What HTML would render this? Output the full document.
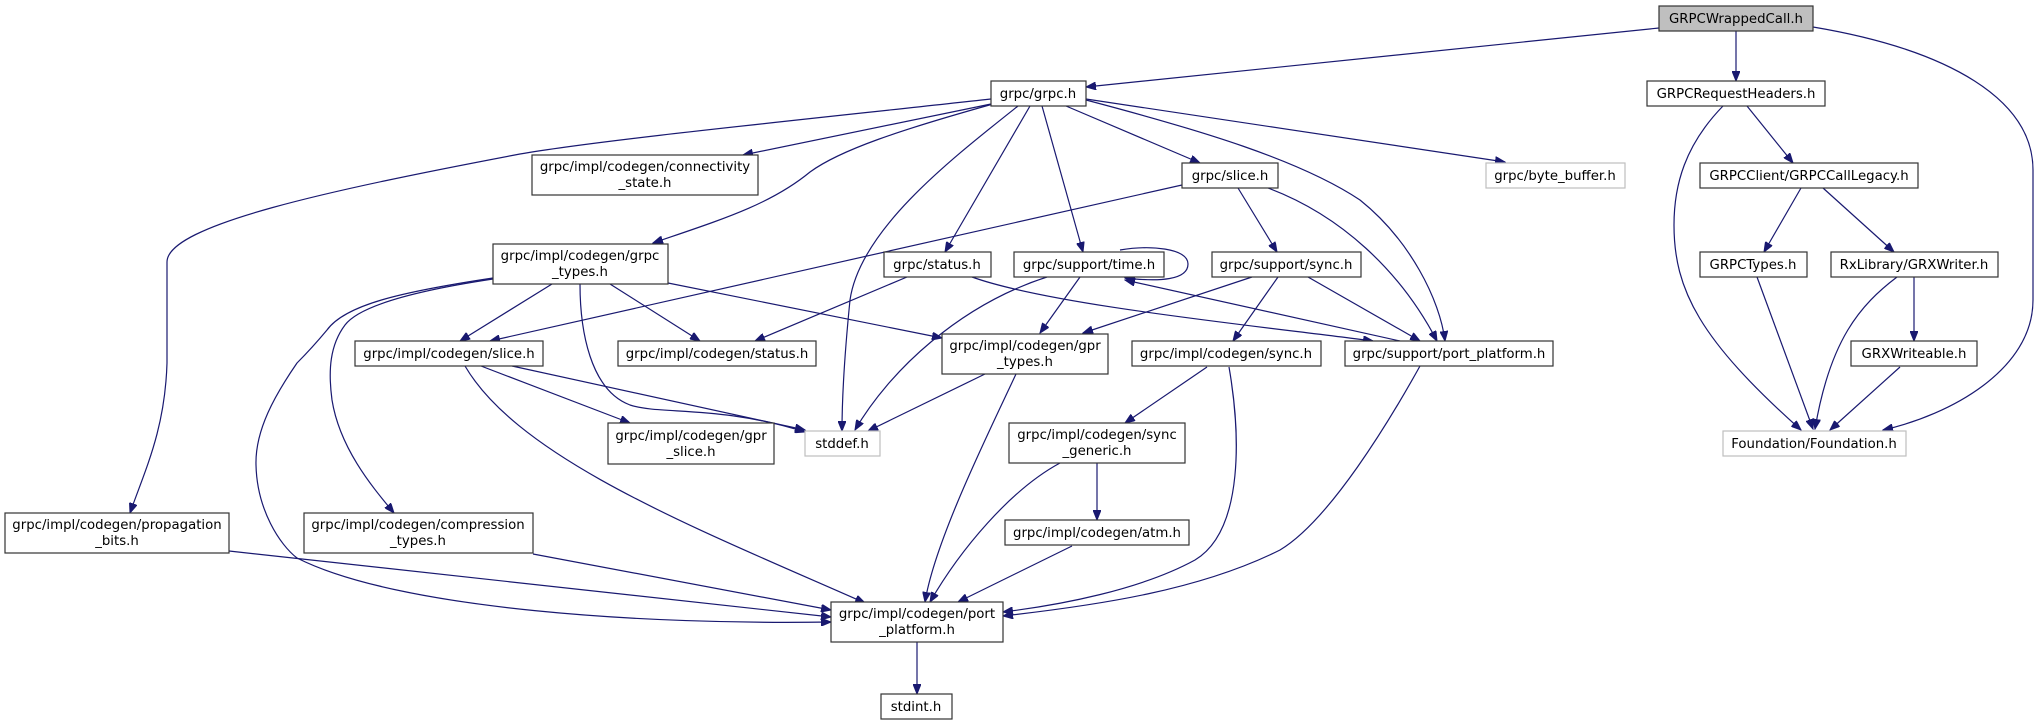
<!DOCTYPE html>
<html><head><meta charset="utf-8"><style>
html,body{margin:0;padding:0;background:#fff;}
svg{display:block;}
text{font-family:"DejaVu Sans","Liberation Sans",sans-serif;font-size:13.3px;fill:#000;text-anchor:middle;}
.n{fill:#fff;stroke:#333;stroke-width:1.2;}
.g{fill:#fff;stroke:#bfbfbf;stroke-width:1.2;}
.e{fill:none;stroke:#191970;stroke-width:1.2;}
</style></head><body>
<svg width="2041" height="723" viewBox="0 0 2041 723" xmlns="http://www.w3.org/2000/svg">
<defs>
<marker id="a" markerWidth="11" markerHeight="8" refX="10" refY="4" orient="auto" markerUnits="userSpaceOnUse">
<path d="M0,0 L10,4 L0,8 z" fill="#191970" stroke="#191970"/>
</marker>
</defs>
<g marker-end="url(#a)">
<path class="e" d="M1659,28 L1086,87"/>
<path class="e" d="M1736,31 V81"/>
<path class="e" d="M1813,27 C1950,50 2033,100 2033,170 L2033,300 C2033,370 1950,415 1883,430"/>
<path class="e" d="M991,99 C800,120 600,140 520,154 C330,190 167,225 167,262 L167,363 C165,430 145,470 130,513"/>
<path class="e" d="M991,104 L743,155"/>
<path class="e" d="M993,104 C900,130 840,150 810,172 C770,205 720,220 653,243"/>
<path class="e" d="M1018,106 C950,160 860,230 850,300 C845,350 842,400 842,431"/>
<path class="e" d="M1030,106 L945,252"/>
<path class="e" d="M1042,106 L1083,252"/>
<path class="e" d="M1066,106 L1200,163"/>
<path class="e" d="M1086,100 C1200,130 1300,160 1360,200 C1410,240 1440,300 1445,341"/>
<path class="e" d="M1086,99 L1505,162"/>
<path class="e" d="M1182,185 L490,341"/>
<path class="e" d="M1238,188 L1277,252"/>
<path class="e" d="M1268,188 C1340,215 1400,270 1437,341"/>
<path class="e" d="M907,277 L755,341"/>
<path class="e" d="M972,277 C1050,305 1250,325 1373,341"/>
<path class="e" d="M1120,250 C1150,245 1188,248 1188,264 C1188,280 1160,282 1125,278"/>
<path class="e" d="M1080,277 L1040,333"/>
<path class="e" d="M1047,277 C960,305 890,370 855,430"/>
<path class="e" d="M1252,277 L1083,333"/>
<path class="e" d="M1278,277 L1233,341"/>
<path class="e" d="M1308,277 L1420,341"/>
<path class="e" d="M1400,341 L1125,280"/>
<path class="e" d="M552,284 L460,341"/>
<path class="e" d="M610,284 L700,341"/>
<path class="e" d="M668,283 L942,338"/>
<path class="e" d="M580,284 C580,330 590,390 630,405 C660,415 720,405 805,432"/>
<path class="e" d="M493,279 C420,290 360,305 345,325 C330,345 328,370 332,400 C340,450 375,490 394,513"/>
<path class="e" d="M493,278 C400,292 345,305 327,330 C312,348 302,358 297,363 C275,395 255,430 256,465 C257,510 280,545 297,558 C400,610 650,625 831,622"/>
<path class="e" d="M481,366 L630,423"/>
<path class="e" d="M512,366 L805,430"/>
<path class="e" d="M465,366 C520,460 700,530 865,603"/>
<path class="e" d="M985,374 L868,431"/>
<path class="e" d="M1016,374 C990,430 935,540 925,602"/>
<path class="e" d="M1207,367 L1125,423"/>
<path class="e" d="M1229,367 C1240,430 1245,530 1195,560 C1140,590 1060,605 1003,612"/>
<path class="e" d="M1097,463 V520"/>
<path class="e" d="M1060,463 C1010,490 960,550 930,602"/>
<path class="e" d="M1072,546 L958,602"/>
<path class="e" d="M1420,366 C1390,420 1330,520 1280,550 C1200,590 1100,605 1003,616"/>
<path class="e" d="M229,551 L831,617"/>
<path class="e" d="M533,554 L831,610"/>
<path class="e" d="M917,642 V694"/>
<path class="e" d="M1747,106 L1793,163"/>
<path class="e" d="M1723,106 C1685,145 1674,185 1674,225 C1674,290 1700,340 1801,430"/>
<path class="e" d="M1801,188 L1764,252"/>
<path class="e" d="M1823,188 L1894,252"/>
<path class="e" d="M1757,277 L1813,429"/>
<path class="e" d="M1897,277 C1860,305 1830,340 1815,429"/>
<path class="e" d="M1914,277 V341"/>
<path class="e" d="M1900,367 L1830,430"/>
</g>

<rect x="1659" y="6" width="154" height="25" fill="#bfbfbf" stroke="#333" stroke-width="1.2"/><text x="1736" y="23">GRPCWrappedCall.h</text>
<rect class="n" x="1647" y="81" width="178" height="25"/><text x="1736" y="98">GRPCRequestHeaders.h</text>
<rect class="n" x="991" y="81" width="95" height="25"/><text x="1038" y="98">grpc/grpc.h</text>
<rect class="g" x="1486" y="163" width="139" height="25"/><text x="1555" y="180">grpc/byte_buffer.h</text>
<rect class="n" x="1700" y="163" width="218" height="25"/><text x="1809" y="180">GRPCClient/GRPCCallLegacy.h</text>
<rect class="n" x="1182" y="163" width="96" height="25"/><text x="1230" y="180">grpc/slice.h</text>
<rect class="n" x="532" y="155" width="226" height="40"/><text x="645" y="171">grpc/impl/codegen/connectivity</text><text x="645" y="187">_state.h</text>
<rect class="n" x="493" y="244" width="175" height="40"/><text x="580" y="260">grpc/impl/codegen/grpc</text><text x="580" y="276">_types.h</text>
<rect class="n" x="884" y="252" width="107" height="25"/><text x="937" y="269">grpc/status.h</text>
<rect class="n" x="1014" y="252" width="150" height="25"/><text x="1089" y="269">grpc/support/time.h</text>
<rect class="n" x="1212" y="252" width="149" height="25"/><text x="1286" y="269">grpc/support/sync.h</text>
<rect class="n" x="1700" y="252" width="107" height="25"/><text x="1753" y="269">GRPCTypes.h</text>
<rect class="n" x="1831" y="252" width="167" height="25"/><text x="1914" y="269">RxLibrary/GRXWriter.h</text>
<rect class="n" x="355" y="341" width="188" height="25"/><text x="449" y="358">grpc/impl/codegen/slice.h</text>
<rect class="n" x="618" y="341" width="198" height="25"/><text x="717" y="358">grpc/impl/codegen/status.h</text>
<rect class="n" x="942" y="334" width="166" height="40"/><text x="1025" y="350">grpc/impl/codegen/gpr</text><text x="1025" y="366">_types.h</text>
<rect class="n" x="1132" y="341" width="189" height="25"/><text x="1226" y="358">grpc/impl/codegen/sync.h</text>
<rect class="n" x="1345" y="341" width="208" height="25"/><text x="1449" y="358">grpc/support/port_platform.h</text>
<rect class="n" x="1851" y="341" width="126" height="25"/><text x="1914" y="358">GRXWriteable.h</text>
<rect class="n" x="608" y="423" width="166" height="41"/><text x="691" y="440">grpc/impl/codegen/gpr</text><text x="691" y="456">_slice.h</text>
<rect class="g" x="805" y="431" width="75" height="25"/><text x="842" y="448">stddef.h</text>
<rect class="n" x="1009" y="423" width="176" height="40"/><text x="1097" y="439">grpc/impl/codegen/sync</text><text x="1097" y="455">_generic.h</text>
<rect class="g" x="1723" y="431" width="183" height="25"/><text x="1814" y="448">Foundation/Foundation.h</text>
<rect class="n" x="5" y="513" width="224" height="40"/><text x="117" y="529">grpc/impl/codegen/propagation</text><text x="117" y="545">_bits.h</text>
<rect class="n" x="304" y="513" width="229" height="40"/><text x="418" y="529">grpc/impl/codegen/compression</text><text x="418" y="545">_types.h</text>
<rect class="n" x="1005" y="520" width="184" height="25"/><text x="1097" y="537">grpc/impl/codegen/atm.h</text>
<rect class="n" x="831" y="602" width="172" height="40"/><text x="917" y="618">grpc/impl/codegen/port</text><text x="917" y="634">_platform.h</text>
<rect class="n" x="881" y="694" width="71" height="25"/><text x="916" y="711">stdint.h</text>
</svg>
</body></html>
